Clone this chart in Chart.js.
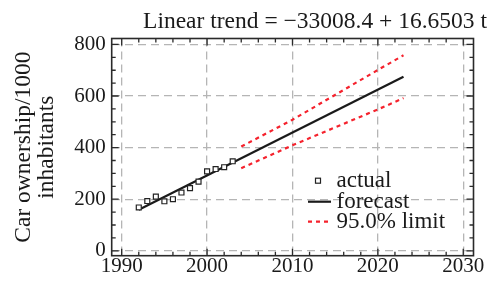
<!DOCTYPE html>
<html>
<head>
<meta charset="utf-8">
<script src="https://cdn.jsdelivr.net/npm/chart.js@4/dist/chart.umd.min.js"></script>
<style>
 html,body{margin:0;padding:0;background:#fff;}
 #wrap{width:489px;height:281px;}
</style>
</head>
<body>
<div id="wrap"><canvas id="chart" width="489" height="281"></canvas></div>
<script>
// data
const actualYears=[1992,1993,1994,1995,1996,1997,1998,1999,2000,2001,2002,2003];
const actualValues=[168,193,210,192,200,226,243,268,308,317,324,347];
const forecastYears=[1992,2023];
const forecastValues=[159,675];
const limitYears=[2004,2010,2020,2023];
const upperLimit=[404,508,701,758];
const lowerLimit=[320,409,548,592];
const xTickLabels=[1990,2000,2010,2020,2030];
const yTickLabels=[0,200,400,600,800];
const titleText="Linear trend = \u221233008.4 + 16.6503 t";

const SERIF="'Liberation Serif', 'Times New Roman', serif";
const pts=(xs,ys)=>xs.map((x,i)=>({x,y:ys[i]}));

const frame={
 id:"frame",
 afterDraw(c){
  const {ctx,chartArea:a,scales:{x,y}}=c;
  ctx.save();
  ctx.strokeStyle="#2a2a2a";
  ctx.lineWidth=1.3;
  ctx.beginPath();
  x.ticks.forEach(t=>{
   const p=x.getPixelForValue(t.value);
   const len=xTickLabels.includes(t.value)?7:4;
   ctx.moveTo(p,a.bottom);ctx.lineTo(p,a.bottom-len);
   ctx.moveTo(p,a.top);ctx.lineTo(p,a.top+len);
  });
  y.ticks.forEach(t=>{
   const p=y.getPixelForValue(t.value);
   const len=yTickLabels.includes(t.value)?7:4;
   ctx.moveTo(a.left,p);ctx.lineTo(a.left+len,p);
   ctx.moveTo(a.right,p);ctx.lineTo(a.right-len,p);
  });
  ctx.stroke();
  ctx.lineWidth=1.6;
  ctx.strokeRect(a.left,a.top,a.right-a.left,a.bottom-a.top);

  // title
  ctx.fillStyle="#1a1a1a";
  ctx.font="23.5px "+SERIF;
  ctx.textAlign="center";
  ctx.textBaseline="alphabetic";
  ctx.fillText(titleText,315,28);

  // legend
  ctx.font="23px "+SERIF;
  const rows=[180.7,201.7,221.7];
  c.data.datasets.slice(0,3).forEach((ds,i)=>{
   const yy=rows[i];
   ctx.save();
   if(i===0){
    ctx.strokeStyle=ds.borderColor;ctx.lineWidth=1.2;ctx.fillStyle="#fff";
    ctx.fillRect(315.5,yy-2.5,5,5);ctx.strokeRect(315.5,yy-2.5,5,5);
   }else{
    ctx.strokeStyle=ds.borderColor;ctx.lineWidth=ds.borderWidth;
    ctx.setLineDash(ds.borderDash||[]);
    ctx.beginPath();ctx.moveTo(308,yy);ctx.lineTo(331,yy);ctx.stroke();
   }
   ctx.restore();
   ctx.textAlign="left";ctx.textBaseline="middle";
   ctx.fillText(ds.label,336.5,yy);
  });
  ctx.restore();
 }
};

new Chart(document.getElementById("chart"),{
 type:"scatter",
 data:{
  datasets:[
   {label:"actual",data:pts(actualYears,actualValues),showLine:false,
    pointStyle:"rect",pointRadius:3.5,pointBorderWidth:1.2,
    borderColor:"#222",backgroundColor:"#fff"},
   {label:"forecast",data:pts(forecastYears,forecastValues),showLine:true,
    borderColor:"#1a1a1a",borderWidth:2.2,pointRadius:0},
   {label:"95.0% limit",data:pts(limitYears,upperLimit),showLine:true,
    borderColor:"#f5222d",borderWidth:2.2,borderDash:[4,4],pointRadius:0},
   {label:"95.0% limit (lower)",data:pts(limitYears,lowerLimit),showLine:true,
    borderColor:"#f5222d",borderWidth:2.2,borderDash:[4,4],pointRadius:0}
  ]
 },
 options:{
  responsive:false,
  animation:false,
  events:[],
  layout:{padding:{top:38.5,right:15.5,left:0,bottom:0}},
  plugins:{legend:{display:false},tooltip:{enabled:false},title:{display:false}},
  scales:{
   x:{
    type:"linear",min:1988.83,max:2031.2,
    afterFit(s){s.height=25.3;},
    border:{display:false,dash:[8,5]},
    grid:{drawTicks:false,lineWidth:1.3,
     color:ctx=>xTickLabels.includes(ctx.tick&&ctx.tick.value)?"#b5b5b5":"rgba(0,0,0,0)"},
    ticks:{stepSize:2,includeBounds:false,autoSkip:false,maxRotation:0,padding:0,
     color:"#1a1a1a",font:{family:SERIF,size:21,lineHeight:1},
     callback:v=>xTickLabels.includes(v)?String(v):""}
   },
   y:{
    type:"linear",min:-19,max:823,
    afterFit(s){s.width=111.7;},
    border:{display:false,dash:[8,5]},
    grid:{drawTicks:false,lineWidth:1.3,
     color:ctx=>yTickLabels.includes(ctx.tick&&ctx.tick.value)?"#b5b5b5":"rgba(0,0,0,0)"},
    ticks:{stepSize:50,includeBounds:false,autoSkip:false,padding:6,
     color:"#1a1a1a",font:{family:SERIF,size:21,lineHeight:1},
     callback:v=>yTickLabels.includes(v)?String(v):""},
    title:{display:true,text:["Car ownership/1000","inhabitants"],
     color:"#1a1a1a",font:{family:SERIF,size:23.5,lineHeight:0.966},
     padding:{top:12.6,bottom:0}}
   }
  }
 },
 plugins:[frame]
});
</script>
</body>
</html>
